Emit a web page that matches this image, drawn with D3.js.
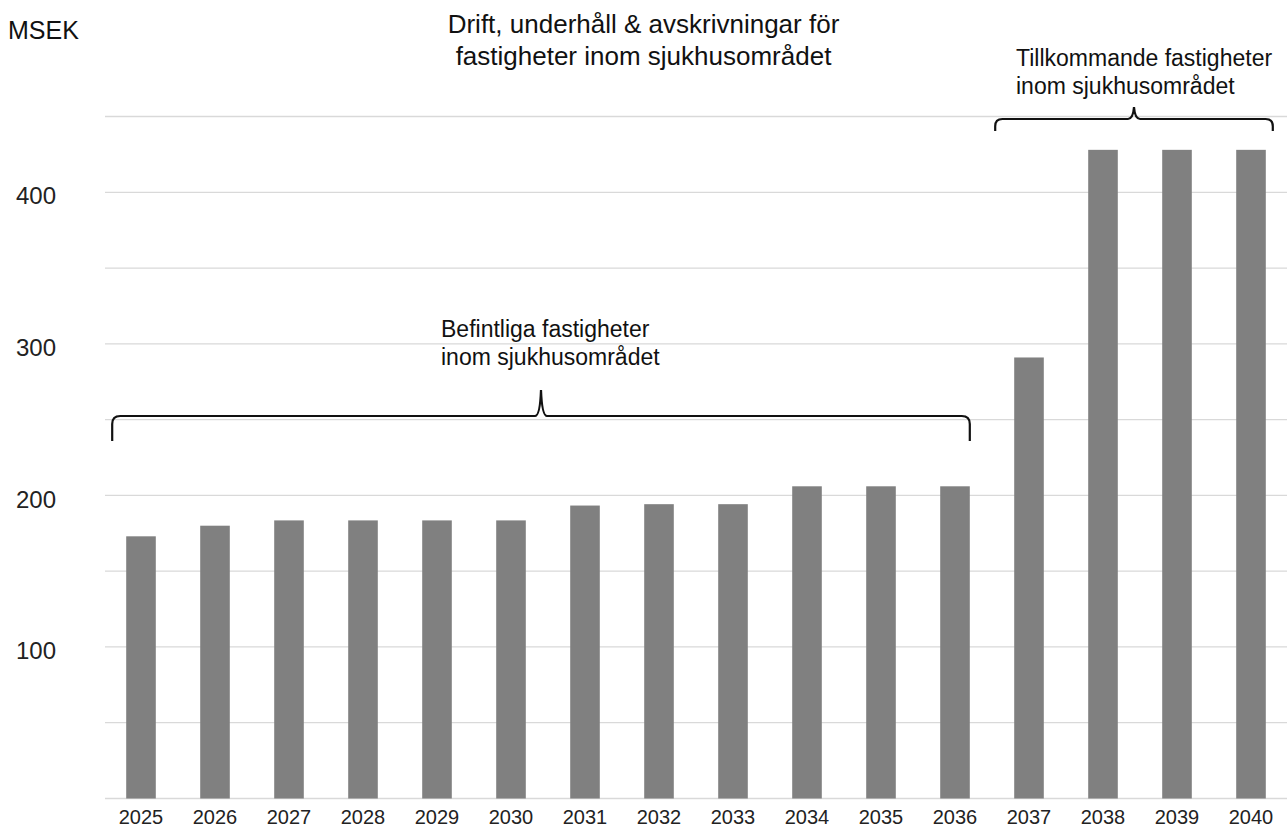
<!DOCTYPE html>
<html>
<head>
<meta charset="utf-8">
<script src="https://cdn.jsdelivr.net/npm/d3@7"></script>
<style>
  html, body { margin: 0; padding: 0; background: #fff; }
  svg { display: block; font-family: "Liberation Sans", Arial, sans-serif; }
</style>
</head>
<body>
<svg id="chart" width="1287" height="829"></svg>
<script>
// ---- Data ----
const years = ["2025","2026","2027","2028","2029","2030","2031","2032","2033","2034","2035","2036","2037","2038","2039","2040"];
const values = [173, 180, 183.5, 183.5, 183.5, 183.5, 193.3, 194.2, 194.2, 206, 206, 206, 291, 428, 428, 428];
const yTickValues = [100, 200, 300, 400];
const gridValues = [50, 100, 150, 200, 250, 300, 350, 400, 450];
const titleLines = ["Drift, underhåll & avskrivningar för", "fastigheter inom sjukhusområdet"];
const unitLabel = "MSEK";
const groups = [
  { from: "2025", to: "2036", lines: ["Befintliga fastigheter", "inom sjukhusområdet"] },
  { from: "2037", to: "2040", lines: ["Tillkommande fastigheter", "inom sjukhusområdet"] }
];

// ---- Layout ----
const svg = d3.select("#chart");
const W = 1287;
const plotLeft = 104, plotRight = 1288;
const y = d3.scaleLinear().domain([0, 450]).range([798.5, 116.5]);
const x = d3.scaleBand().domain(years).range([plotLeft, plotRight]).paddingInner(0.6).paddingOuter(0.3);

// gridlines
svg.append("g").selectAll("line").data(gridValues).join("line")
  .attr("x1", plotLeft + 1).attr("x2", W)
  .attr("y1", d => y(d)).attr("y2", d => y(d))
  .attr("stroke", "#d9d9d9").attr("stroke-width", 1.3);

// baseline axis
const xAxis = d3.axisBottom(x).tickSize(0).tickPadding(11);
const gx = svg.append("g").attr("transform", `translate(0,${y(0)})`).call(xAxis);
gx.select(".domain").attr("stroke", "#d9d9d9").attr("stroke-width", 1.5)
  .attr("d", `M${plotLeft + 1},0H${W}`);
gx.selectAll("text").attr("font-size", 20).attr("fill", "#222")
  .attr("font-family", "Liberation Sans, Arial, sans-serif");

// y labels
const yAxis = d3.axisLeft(y).tickValues(yTickValues).tickSize(0).tickPadding(0);
const gy = svg.append("g").attr("transform", "translate(36,4)").call(yAxis);
gy.select(".domain").remove();
gy.selectAll("text").attr("font-size", 24).attr("fill", "#222").attr("text-anchor", "middle")
  .attr("font-family", "Liberation Sans, Arial, sans-serif");

// bars
svg.append("g").selectAll("rect").data(values).join("rect")
  .attr("x", (d, i) => x(years[i]))
  .attr("width", x.bandwidth())
  .attr("y", d => y(d))
  .attr("height", d => y(0) - y(d))
  .attr("fill", "#808080");

// title
const title = svg.append("text").attr("x", 643.5).attr("y", 33)
  .attr("text-anchor", "middle").attr("font-size", 26).attr("fill", "#111");
titleLines.forEach((t, i) => title.append("tspan").attr("x", 643.5).attr("dy", i === 0 ? 0 : 32).text(t));

// unit
svg.append("text").attr("x", 8).attr("y", 39).attr("font-size", 25).attr("fill", "#111").text(unitLabel);

// braces
function brace(x0, x1, yLine, drop, peak) {
  const xm = (x0 + x1) / 2;
  const r = Math.min(8, drop * 0.6);
  return `M${x0},${yLine + drop}` +
    `L${x0},${yLine + r}Q${x0},${yLine} ${x0 + r},${yLine}` +
    `L${xm - 6},${yLine}Q${xm - 1},${yLine} ${xm},${yLine - peak}` +
    `Q${xm + 1},${yLine} ${xm + 6},${yLine}` +
    `L${x1 - r},${yLine}Q${x1},${yLine} ${x1},${yLine + r}L${x1},${yLine + drop}`;
}
const braceCfg = [
  { x0: x(groups[0].from) - 14, x1: x(groups[0].to) + x.bandwidth(), yLine: 416, drop: 25, peak: 26, tx: 441, ty: 337 },
  { x0: x(groups[1].from) - 19, x1: x(groups[1].to) + x.bandwidth() + 7, yLine: 119, drop: 12, peak: 12, tx: 1016, ty: 66 }
];
braceCfg.forEach((b, i) => {
  svg.append("path").attr("d", brace(b.x0, b.x1, b.yLine, b.drop, b.peak))
    .attr("fill", "none").attr("stroke", "#111").attr("stroke-width", 2.2);
  const t = svg.append("text").attr("x", b.tx).attr("y", b.ty).attr("font-size", 23).attr("fill", "#111");
  groups[i].lines.forEach((l, j) => t.append("tspan").attr("x", b.tx).attr("dy", j === 0 ? 0 : 28).text(l));
});
</script>
</body>
</html>
